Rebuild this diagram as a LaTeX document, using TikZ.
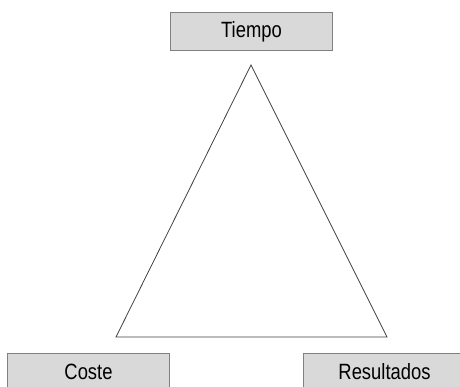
\documentclass[tikz,border=0pt]{standalone}
\usepackage{fontspec}
\setmainfont{Liberation Sans}
\usepackage{graphicx}
\begin{document}
\begin{tikzpicture}[x=1pt,y=1pt,
  label box/.style={draw=black!50, line width=1pt, fill=black!15,
    minimum width=162pt, minimum height=38pt, inner sep=0pt, anchor=north west},
  tri line/.style={draw=black!75, line width=0.8pt, line join=miter}]
  \clip (0,0) rectangle (460,387);
  \useasboundingbox (0,0) rectangle (460,387);
  \node[label box] (tiempo) at (170,375) {\fontsize{18.4}{20}\selectfont\scalebox{1}[1.2]{Tiempo}};
  \node[label box] (coste) at (7,34) {\raisebox{2pt}{\fontsize{18.4}{20}\selectfont\scalebox{1}[1.2]{Coste}}};
  \node[label box] (resultados) at (303,34) {\raisebox{2pt}{\fontsize{18.4}{20}\selectfont\scalebox{1}[1.2]{Resultados}}};
  \coordinate (apex) at (251,322);
  \coordinate (bl) at (116,50);
  \coordinate (br) at (387,50);
  \draw[tri line] (apex) -- (bl) -- (br) -- cycle;
\end{tikzpicture}
\end{document}
